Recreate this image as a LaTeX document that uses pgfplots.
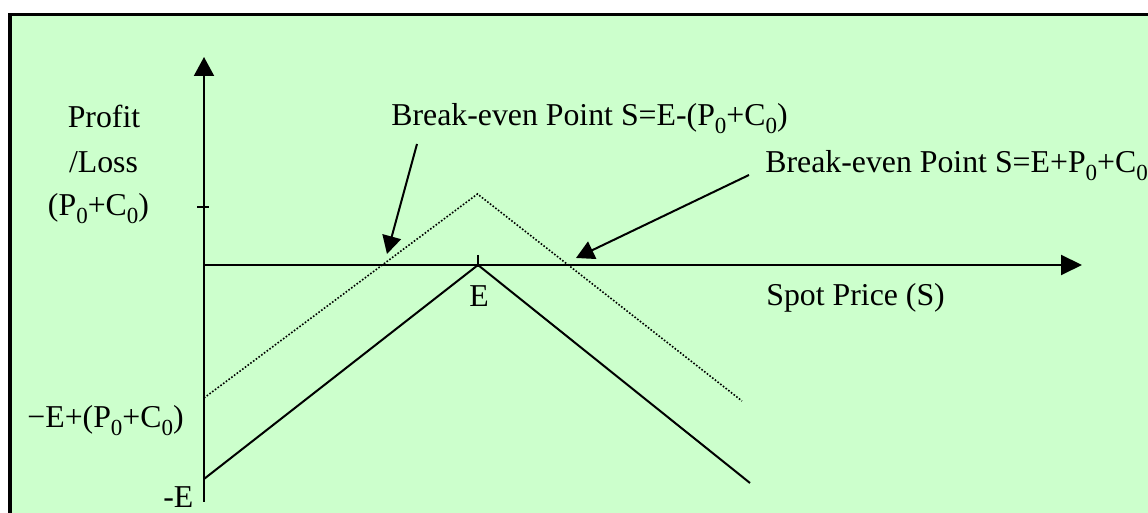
\documentclass[border=0pt]{standalone}
\usepackage{fontspec}
\setmainfont{Liberation Serif}
\usepackage{pgfplots}
\pgfplotsset{compat=1.18}
\usetikzlibrary{arrows.meta}
\definecolor{bg}{HTML}{CCFFCC}
\newcommand{\sub}[1]{\raisebox{-4pt}{\fontsize{11.5}{11.5}\selectfont #1}}
\tikzset{lbl/.style={font=\fontsize{15.9}{22}\selectfont, inner sep=0pt}}
\begin{document}
\begin{tikzpicture}
\begin{axis}[x=0.5pt, y=0.5pt, xmin=-204, xmax=944, ymin=-248, ymax=265,
  hide axis, clip=false]
% background and frame
\fill[white] (axis cs:-204,-248) rectangle (axis cs:944,265);
\fill[bg] (axis cs:-194,-248) rectangle (axis cs:944,250.5);
\draw[line width=1.75pt, line cap=rect, line join=miter] (axis cs:-194,-248) -- (axis cs:-194,250.5) -- (axis cs:944,250.5);
% axes
\draw[line width=1pt, -{Triangle[length=9.5pt,width=10pt]}] (axis cs:0,-237) -- (axis cs:0,208);
\draw[line width=1pt, -{Triangle[length=10.5pt,width=10pt]}] (axis cs:0,0) -- (axis cs:878,0);
% ticks
\draw[line width=1pt] (axis cs:-7,58) -- (axis cs:5,58);
\draw[line width=1pt] (axis cs:274,10) -- (axis cs:274,-2);
% payoff lines
\addplot[black, line width=1pt] coordinates {(0,-214) (274,0) (546,-218)};
\addplot[black, line width=0.8pt, dash pattern=on 0.8pt off 0.9pt] coordinates {(0,-133) (273.5,71) (538,-136)};
% annotation arrows
\draw[line width=1pt, -{Triangle[length=9pt,width=9.5pt]}] (axis cs:213,121) -- (axis cs:183,11);
\draw[line width=1pt, -{Triangle[length=9pt,width=9.5pt]}] (axis cs:545,90) -- (axis cs:372,7);
% labels
\node[lbl, anchor=base west] at (axis cs:187,139) {Break-even Point S=E-(P\sub{0}+C\sub{0})};
\node[lbl, anchor=base west] at (axis cs:561,92) {Break-even Point S=E+P\sub{0}+C\sub{0}};
\node[lbl, anchor=base west] at (axis cs:562,-41) {Spot Price (S)};
\node[lbl, anchor=base] at (axis cs:275,-42) {E};
\node[lbl, anchor=base] at (axis cs:-100,137) {Profit};
\node[lbl, anchor=base] at (axis cs:-100.5,92) {/Loss};
\node[lbl, anchor=base] at (axis cs:-105.5,49) {(P\sub{0}+C\sub{0})};
\node[lbl, anchor=base west] at (axis cs:-177,-163) {−E+(P\sub{0}+C\sub{0})};
\node[lbl, anchor=base west] at (axis cs:-41,-242.5) {-E};
\end{axis}
\pgfresetboundingbox
\useasboundingbox (current axis.south west) rectangle (current axis.north east);
\end{tikzpicture}
\end{document}
